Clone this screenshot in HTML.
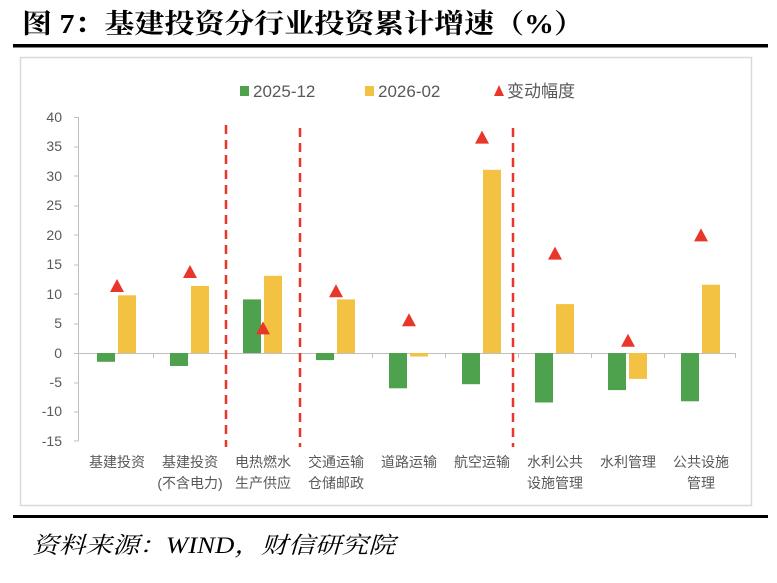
<!DOCTYPE html><html><head><meta charset="utf-8"><style>
body{margin:0;width:777px;height:578px;background:#fff;overflow:hidden}
</style></head><body>
<svg width="777" height="578" xmlns="http://www.w3.org/2000/svg" font-family="Liberation Sans, Noto Sans CJK SC, sans-serif">
<text x="22" y="33" font-size="27" font-weight="bold" font-family="Liberation Serif, Noto Serif CJK SC, serif" fill="#000" textLength="562" lengthAdjust="spacingAndGlyphs">图 7：基建投资分行业投资累计增速（%）</text>
<rect x="13" y="44" width="755" height="3.5" fill="#000"/>
<rect x="20.5" y="57.5" width="731" height="448" fill="none" stroke="#d9d9d9" stroke-width="1.5"/>
<rect x="13" y="515" width="755" height="3" fill="#000"/>
<text x="32" y="553" font-size="23" font-style="italic" font-family="Liberation Serif, Noto Serif CJK SC, serif" fill="#000" textLength="363" lengthAdjust="spacingAndGlyphs">资料来源：WIND，财信研究院</text>
<g font-size="17" fill="#595959">
<rect x="240" y="86" width="9" height="10" fill="#4ea24e"/><text x="253" y="97">2025-12</text>
<rect x="365" y="86" width="9" height="10" fill="#f4c242"/><text x="378" y="97">2026-02</text>
<polygon points="499,85 494,96 504,96" fill="#e8372a"/><text x="507" y="97">变动幅度</text>
</g>
<g font-size="14" fill="#595959" text-anchor="end">
<text x="62" y="122">40</text><text x="62" y="151">35</text><text x="62" y="181">30</text><text x="62" y="210">25</text><text x="62" y="240">20</text><text x="62" y="269">15</text><text x="62" y="299">10</text><text x="62" y="328">5</text><text x="62" y="358">0</text><text x="62" y="387">-5</text><text x="62" y="416">-10</text><text x="62" y="446">-15</text>
</g>
<g stroke="#bfbfbf" stroke-width="1">
<line x1="78.5" y1="117" x2="78.5" y2="441"/>
<line x1="74" y1="117.5" x2="78" y2="117.5"/><line x1="74" y1="147" x2="78" y2="147"/><line x1="74" y1="176" x2="78" y2="176"/><line x1="74" y1="206" x2="78" y2="206"/><line x1="74" y1="235" x2="78" y2="235"/><line x1="74" y1="265" x2="78" y2="265"/><line x1="74" y1="294" x2="78" y2="294"/><line x1="74" y1="324" x2="78" y2="324"/><line x1="74" y1="383" x2="78" y2="383"/><line x1="74" y1="412" x2="78" y2="412"/><line x1="74" y1="441" x2="78" y2="441"/>
<line x1="74" y1="353.5" x2="736" y2="353.5"/>
<line x1="153.5" y1="353" x2="153.5" y2="358"/><line x1="226.5" y1="353" x2="226.5" y2="358"/><line x1="299.5" y1="353" x2="299.5" y2="358"/><line x1="372.5" y1="353" x2="372.5" y2="358"/><line x1="445.5" y1="353" x2="445.5" y2="358"/><line x1="518.5" y1="353" x2="518.5" y2="358"/><line x1="591.5" y1="353" x2="591.5" y2="358"/><line x1="664.5" y1="353" x2="664.5" y2="358"/><line x1="735.5" y1="353" x2="735.5" y2="358"/>
</g>
<g fill="#4ea24e">
<rect x="97" y="353" width="18" height="8.8"/>
<rect x="170" y="353" width="18" height="13"/>
<rect x="243" y="299.4" width="18" height="53.6"/>
<rect x="316" y="353" width="18" height="7.1"/>
<rect x="389" y="353" width="18" height="35.3"/>
<rect x="462" y="353" width="18" height="31.2"/>
<rect x="535" y="353" width="18" height="49.5"/>
<rect x="608" y="353" width="18" height="37.1"/>
<rect x="681" y="353" width="18" height="48.3"/>
</g>
<g fill="#f4c242">
<rect x="118" y="295.3" width="18" height="57.7"/>
<rect x="191" y="285.9" width="18" height="67.1"/>
<rect x="264" y="275.8" width="18" height="77.2"/>
<rect x="337" y="299.4" width="18" height="53.6"/>
<rect x="410" y="353" width="18" height="3.5"/>
<rect x="483" y="169.8" width="18" height="183.2"/>
<rect x="556" y="304.1" width="18" height="48.9"/>
<rect x="629" y="353" width="18" height="25.9"/>
<rect x="702" y="284.7" width="18" height="68.3"/>
</g>
<g fill="#e8372a">
<polygon points="117,279 110,292 124,292"/>
<polygon points="190,265 183,278 197,278"/>
<polygon points="263,321.4 256,334.4 270,334.4"/>
<polygon points="336,284.3 329,297.3 343,297.3"/>
<polygon points="409,313.2 402,326.2 416,326.2"/>
<polygon points="482,130.6 475,143.6 489,143.6"/>
<polygon points="555,246.6 548,259.6 562,259.6"/>
<polygon points="628,333.8 621,346.8 635,346.8"/>
<polygon points="701,228.4 694,241.4 708,241.4"/>
</g>
<g stroke="#e8372a" stroke-width="2.5" stroke-dasharray="9,6">
<line x1="226" y1="125" x2="226" y2="447"/><line x1="300" y1="128" x2="300" y2="447"/><line x1="513" y1="128" x2="513" y2="447"/>
</g>
<g font-size="14" fill="#595959" text-anchor="middle">
<text x="117" y="467">基建投资</text>
<text x="190" y="467">基建投资</text><text x="190" y="488">(不含电力)</text>
<text x="263" y="467">电热燃水</text><text x="263" y="488">生产供应</text>
<text x="336" y="467">交通运输</text><text x="336" y="488">仓储邮政</text>
<text x="409" y="467">道路运输</text>
<text x="482" y="467">航空运输</text>
<text x="555" y="467">水利公共</text><text x="555" y="488">设施管理</text>
<text x="628" y="467">水利管理</text>
<text x="701" y="467">公共设施</text><text x="701" y="488">管理</text>
</g>
</svg>
</body></html>
